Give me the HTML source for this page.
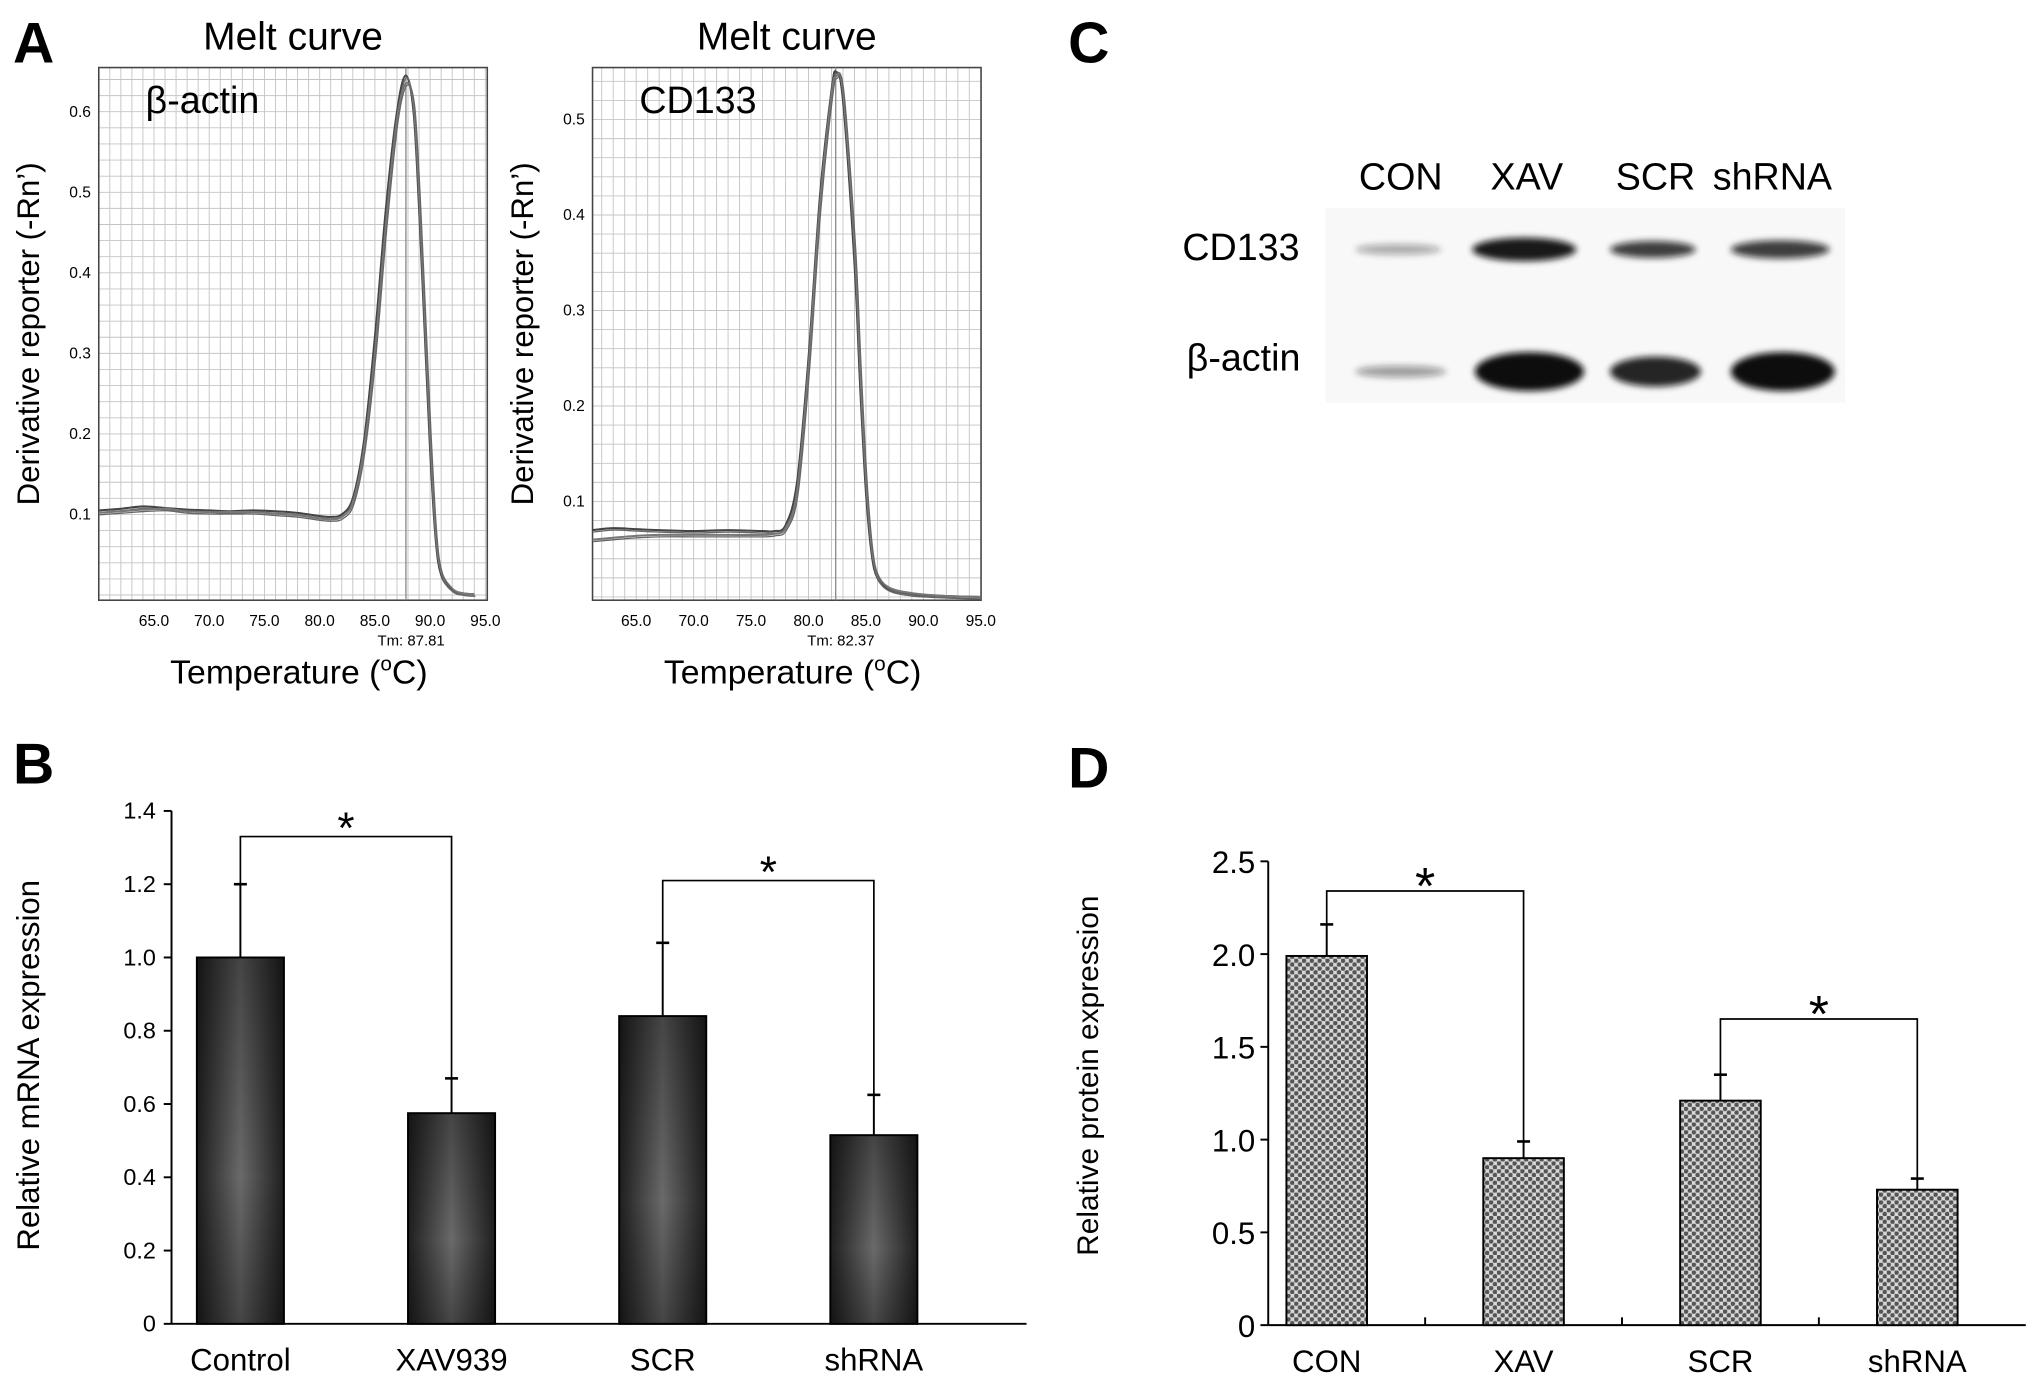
<!DOCTYPE html>
<html><head><meta charset="utf-8"><style>
html,body{margin:0;padding:0;background:#fff}
svg{display:block}
text{font-family:"Liberation Sans",sans-serif}
</style></head><body>
<svg id="fig" width="2031" height="1381" viewBox="0 0 1563 1063" preserveAspectRatio="none" xmlns="http://www.w3.org/2000/svg">
<defs>
<linearGradient id="barGrad" x1="0" x2="1" y1="0" y2="0">
<stop offset="0" stop-color="#1e1e1e"/><stop offset="0.5" stop-color="#6a6a6a"/><stop offset="1" stop-color="#1e1e1e"/>
</linearGradient>
<linearGradient id="barGradV" x1="0" x2="0" y1="0" y2="1">
<stop offset="0" stop-color="#000" stop-opacity="0.35"/><stop offset="0.6" stop-color="#000" stop-opacity="0"/><stop offset="1" stop-color="#000" stop-opacity="0.35"/>
</linearGradient>
<pattern id="dots" width="6" height="6" patternUnits="userSpaceOnUse">
<rect width="6" height="6" fill="#d8d8d8"/>
<circle cx="1.5" cy="1.5" r="1.8" fill="#555"/><circle cx="4.5" cy="4.5" r="1.8" fill="#555"/>
</pattern>
<filter id="blur" x="-20%" y="-100%" width="140%" height="300%"><feGaussianBlur stdDeviation="2.5"/></filter>
</defs>

<text x="10" y="48" font-size="44" font-weight="bold">A</text>
<text x="10" y="603" font-size="44" font-weight="bold">B</text>
<text x="822" y="48" font-size="44" font-weight="bold">C</text>
<text x="822" y="606" font-size="44" font-weight="bold">D</text>

<g id="panelA"></g>
<g id="panelB"></g>
<g id="panelC"></g>
<g id="panelD"></g>
</svg>
<script>
// ---------- Panel A data ----------
const actinTemps = [60,62,64,66,68,70,72,74,76,78,80,81,82,83,84,85,86,87,87.8,88.5,89,89.5,90,90.5,91,92,93,94];
const actinVals1 = [0.105,0.107,0.110,0.108,0.106,0.105,0.104,0.105,0.104,0.102,0.098,0.097,0.100,0.120,0.190,0.320,0.480,0.600,0.645,0.600,0.480,0.330,0.180,0.070,0.025,0.006,0.002,0.001];
const actinVals2 = [0.102,0.104,0.106,0.107,0.104,0.103,0.103,0.103,0.101,0.099,0.095,0.094,0.097,0.115,0.180,0.300,0.460,0.590,0.635,0.610,0.500,0.350,0.200,0.080,0.030,0.008,0.002,0.001];
const cd133Temps = [61.2,63,65,67,70,73,76,77,78,79,80,81,82,82.4,83,84,84.5,85,85.5,86,87,89,92,95];
const cd133Vals1 = [0.070,0.072,0.071,0.070,0.069,0.070,0.069,0.069,0.075,0.120,0.250,0.420,0.530,0.550,0.520,0.350,0.220,0.110,0.045,0.020,0.008,0.003,0.001,0.000];
const cd133Vals2 = [0.060,0.062,0.064,0.065,0.065,0.065,0.065,0.066,0.072,0.110,0.240,0.410,0.525,0.545,0.530,0.370,0.240,0.125,0.052,0.024,0.010,0.004,0.001,0.000];
const xTicksA = [65,70,75,80,85,90,95];
const actinYTicks = [0.1,0.2,0.3,0.4,0.5,0.6];
const cd133YTicks = [0.1,0.2,0.3,0.4,0.5];

// ---------- Panel B data ----------
const mrnaCats = ["Control","XAV939","SCR","shRNA"];
const mrnaVals = [1.0,0.575,0.84,0.515];
const mrnaErr = [0.2,0.095,0.2,0.11];
const mrnaTicks = [0,0.2,0.4,0.6,0.8,1.0,1.2,1.4];
const mrnaTickLabels = ["0","0.2","0.4","0.6","0.8","1.0","1.2","1.4"];

// ---------- Panel D data ----------
const protCats = ["CON","XAV","SCR","shRNA"];
const protVals = [1.99,0.90,1.21,0.73];
const protErr = [0.17,0.09,0.14,0.06];
const protTicks = [0,0.5,1.0,1.5,2.0,2.5];
const protTickLabels = ["0","0.5","1.0","1.5","2.0","2.5"];

const NS="http://www.w3.org/2000/svg";
function mk(tag, attrs, parent){const e=document.createElementNS(NS,tag);for(const k in attrs)e.setAttribute(k,attrs[k]);parent.appendChild(e);return e;}
function smooth(pts){let d="M"+pts[0][0]+","+pts[0][1];for(let i=0;i<pts.length-1;i++){const p0=pts[Math.max(0,i-1)],p1=pts[i],p2=pts[i+1],p3=pts[Math.min(pts.length-1,i+2)];const c1x=p1[0]+(p2[0]-p0[0])/6,c1y=p1[1]+(p2[1]-p0[1])/6,c2x=p2[0]-(p3[0]-p1[0])/6,c2y=p2[1]-(p3[1]-p1[1])/6;d+=` C${c1x},${c1y} ${c2x},${c2y} ${p2[0]},${p2[1]}`;}return d;}

// ---------- Panel A ----------
function meltPlot(cfg){
  const g=document.getElementById('panelA');
  const sx=t=>cfg.x0+(t-cfg.tmin)*cfg.pxPerC;
  const sy=v=>cfg.yZero-v*cfg.pxPerUnit;
  const pg=mk('g',{},g);
  
  
  for(let t=Math.ceil(cfg.tmin);t<=95;t++){const x=sx(t);if(x<cfg.x0||x>cfg.x1)continue;const l=mk('line',{x1:x,x2:x,y1:cfg.y0,y2:cfg.y1,stroke:'#c4c4c4','stroke-width':0.7},pg);}
  for(let v=0;v<=0.7;v+=0.02){const y=sy(v);if(y<cfg.y0||y>cfg.y1)continue;const l=mk('line',{x1:cfg.x0,x2:cfg.x1,y1:y,y2:y,stroke:'#c4c4c4','stroke-width':0.7},pg);}
  const fr=mk('rect',{x:cfg.x0,y:cfg.y0,width:cfg.x1-cfg.x0,height:cfg.y1-cfg.y0,fill:'none',stroke:'#444','stroke-width':1.2},pg);
  
  const tl=mk('line',{x1:sx(cfg.tm),x2:sx(cfg.tm),y1:cfg.y0,y2:cfg.y1,stroke:'#888','stroke-width':1},pg);
  
  cfg.series.forEach((vals,i)=>{
    const pts=cfg.temps.map((t,j)=>[sx(t),sy(vals[j])]);
    const p=mk('path',{d:smooth(pts),fill:'none',stroke:i%2?'#777':'#444','stroke-width':1.6},pg);
    
    const p2=mk('path',{d:smooth(pts.map(q=>[q[0]+0.8,q[1]+1.5])),fill:'none',stroke:'#666','stroke-width':1},pg);
    
  });
  xTicksA.forEach(t=>{const x=sx(t);const tx=mk('text',{x:x,y:cfg.y1+20,'font-size':12,'text-anchor':'middle'},pg);tx.textContent=t.toFixed(1);});
  cfg.yTicks.forEach(v=>{const tx=mk('text',{x:cfg.x0-6,y:sy(v)+4,'font-size':12,'text-anchor':'end'},pg);tx.textContent=String(v);});
  const tm=mk('text',{x:sx(cfg.tm)+4,y:cfg.y1+35,'font-size':11.5,'text-anchor':'middle'},pg);tm.textContent='Tm: '+cfg.tm.toFixed(2);
  const tt=mk('text',{x:(cfg.x0+cfg.x1)/2,y:38,'font-size':30,'text-anchor':'middle'},pg);tt.textContent='Melt curve';
  const gl=mk('text',{x:cfg.x0+36,y:87,'font-size':29},pg);gl.textContent=cfg.gene;
  const xt=mk('text',{x:cfg.x0+154,y:526,'font-size':26,'text-anchor':'middle'},pg);xt.innerHTML='Temperature (<tspan font-size="16" dy="-10">o</tspan><tspan dy="10">C)</tspan>';
  const yt=mk('text',{x:0,y:0,'font-size':24,'text-anchor':'middle',transform:`translate(${cfg.x0-46},${(cfg.y0+cfg.y1)/2}) rotate(-90)`},pg);yt.textContent="Derivative reporter (-Rn\u2019)";
}
meltPlot({name:'melt-curve-beta-actin',gene:'β-actin',x0:76,x1:375,y0:52,y1:462,tmin:60,pxPerC:8.5,yZero:458,pxPerUnit:620,temps:actinTemps,series:[actinVals1,actinVals2],yTicks:actinYTicks,tm:87.81});
meltPlot({name:'melt-curve-cd133',gene:'CD133',x0:456,x1:755,y0:52,y1:462,tmin:61.2,pxPerC:8.84,yZero:459.5,pxPerUnit:735,temps:cd133Temps,series:[cd133Vals1,cd133Vals2],yTicks:cd133YTicks,tm:82.37});

// ---------- Bar chart helper ----------
function barChart(cfg){
  const g=document.getElementById(cfg.gid);
  const sy=v=>cfg.yZero-v*cfg.pxPerUnit;
  const ax=mk('line',{x1:cfg.ax,x2:cfg.ax,y1:sy(cfg.ticks[cfg.ticks.length-1]),y2:cfg.yZero,stroke:'#000','stroke-width':1.5},g);
  const xl=mk('line',{x1:cfg.ax,x2:cfg.xEnd,y1:cfg.yZero,y2:cfg.yZero,stroke:'#000','stroke-width':1.5},g);
  cfg.ticks.forEach((v,i)=>{const y=sy(v);const t=mk('line',{x1:cfg.ax-6,x2:cfg.ax,y1:y,y2:y,stroke:'#000','stroke-width':1.5},g);
    const tx=mk('text',{x:cfg.ax-(cfg.gid==='panelD'?10:12),y:y+(cfg.gid==='panelD'?9:6),'font-size':cfg.tickFs,'text-anchor':'end'},g);tx.textContent=cfg.tickLabels[i];});
  cfg.cats.forEach((c,i)=>{
    const cx=cfg.c0+i*cfg.step, x=cx-cfg.bw/2, yt=sy(cfg.vals[i]), ye=sy(cfg.vals[i]+cfg.err[i]);
    const el=mk('line',{x1:cx,x2:cx,y1:ye,y2:yt,stroke:'#000','stroke-width':1.5},g);
    const ec=mk('line',{x1:cx-5,x2:cx+5,y1:ye,y2:ye,stroke:'#000','stroke-width':2},g);
    const b=mk('rect',{x:x,y:yt,width:cfg.bw,height:cfg.yZero-yt,fill:cfg.fill,stroke:'#000','stroke-width':1.5},g);
    if(cfg.overlay){const o=mk('rect',{x:x,y:yt,width:cfg.bw,height:cfg.yZero-yt,fill:cfg.overlay},g);}
    const lb=mk('text',{x:cx,y:cfg.yZero+36,'font-size':24,'text-anchor':'middle'},g);lb.textContent=c;
    if(cfg.xTicks&&i>0){const tx=cx-cfg.step/2;const t=mk('line',{x1:tx,x2:tx,y1:cfg.yZero,y2:cfg.yZero-6,stroke:'#000','stroke-width':1.5},g);}
  });
  cfg.brackets.forEach(br=>{
    const [a,b,v,lowA,lowB]=br;const xa=cfg.c0+a*cfg.step,xb=cfg.c0+b*cfg.step,y=sy(v);
    const p=mk('path',{d:`M${xa},${sy(lowA)} V${y} H${xb} V${sy(lowB)}`,fill:'none',stroke:'#000','stroke-width':1.3},g);
    const s=mk('text',{x:(xa+xb)/2,y:y+cfg.starDy,'font-size':cfg.starFs,'text-anchor':'middle'},g);s.textContent='*';
  });
  const yt=mk('text',{x:0,y:0,'font-size':cfg.ytFs,'text-anchor':'middle',transform:`translate(${cfg.ytX},${cfg.ytY}) rotate(-90)`},g);yt.textContent=cfg.yTitle;
}
barChart({gid:'panelB',cats:mrnaCats,vals:mrnaVals,err:mrnaErr,ticks:mrnaTicks,tickLabels:mrnaTickLabels,yZero:1019,pxPerUnit:282,ax:132,xEnd:790,c0:185,step:162.5,bw:67,fill:'url(#barGrad)',overlay:'url(#barGradV)',tickFs:18,
  brackets:[[0,1,1.33,1.2,0.67],[2,3,1.21,1.04,0.625]],starDy:5,starFs:34,yTitle:'Relative mRNA expression',ytFs:24,ytX:30,ytY:820});
barChart({gid:'panelD',cats:protCats,vals:protVals,err:protErr,ticks:protTicks,tickLabels:protTickLabels,yZero:1020,pxPerUnit:142.8,ax:976,xEnd:1559,c0:1021,step:151.5,bw:62,fill:'url(#dots)',overlay:null,tickFs:24,xTicks:true,
  brackets:[[0,1,2.34,2.16,0.99],[2,3,1.65,1.35,0.79]],starDy:10,starFs:40,yTitle:'Relative protein expression',ytFs:23,ytX:845,ytY:828});

// ---------- Panel C ----------
const blotLanes = ["CON","XAV","SCR","shRNA"];
const cd133Intensity = [0.35,0.95,0.8,0.8];
const actinIntensity = [0.4,1.0,0.9,1.0];
(function(){
  const g=document.getElementById('panelC');
  const bg=mk('rect',{x:1020,y:160,width:400,height:150,fill:'#f8f8f8'},g);
  const laneX=[1076,1173,1272,1370], laneW=[66,80,66,76];
  const hC=[8,18,13,14], hA=[9,30,23,30];
  blotLanes.forEach((l,i)=>{
    const t=mk('text',{x:laneX[i]+(i==3?-6:2),y:146,'font-size':29,'text-anchor':'middle'},g);t.textContent=l;
    const b1=mk('ellipse',{cx:laneX[i],cy:192,rx:laneW[i]/2,ry:hC[i]/2,fill:'#111','fill-opacity':cd133Intensity[i],filter:'url(#blur)'},g);
    const b2=mk('ellipse',{cx:laneX[i]+(i==1?4:2),cy:286,rx:laneW[i]/2+2,ry:hA[i]/2,fill:'#111','fill-opacity':actinIntensity[i],filter:'url(#blur)'},g);
  });
  const r1=mk('text',{x:955,y:200,'font-size':29,'text-anchor':'middle'},g);r1.textContent='CD133';
  const r2=mk('text',{x:957,y:285,'font-size':29,'text-anchor':'middle'},g);r2.textContent='β-actin';
})();
</script>
</body></html>
